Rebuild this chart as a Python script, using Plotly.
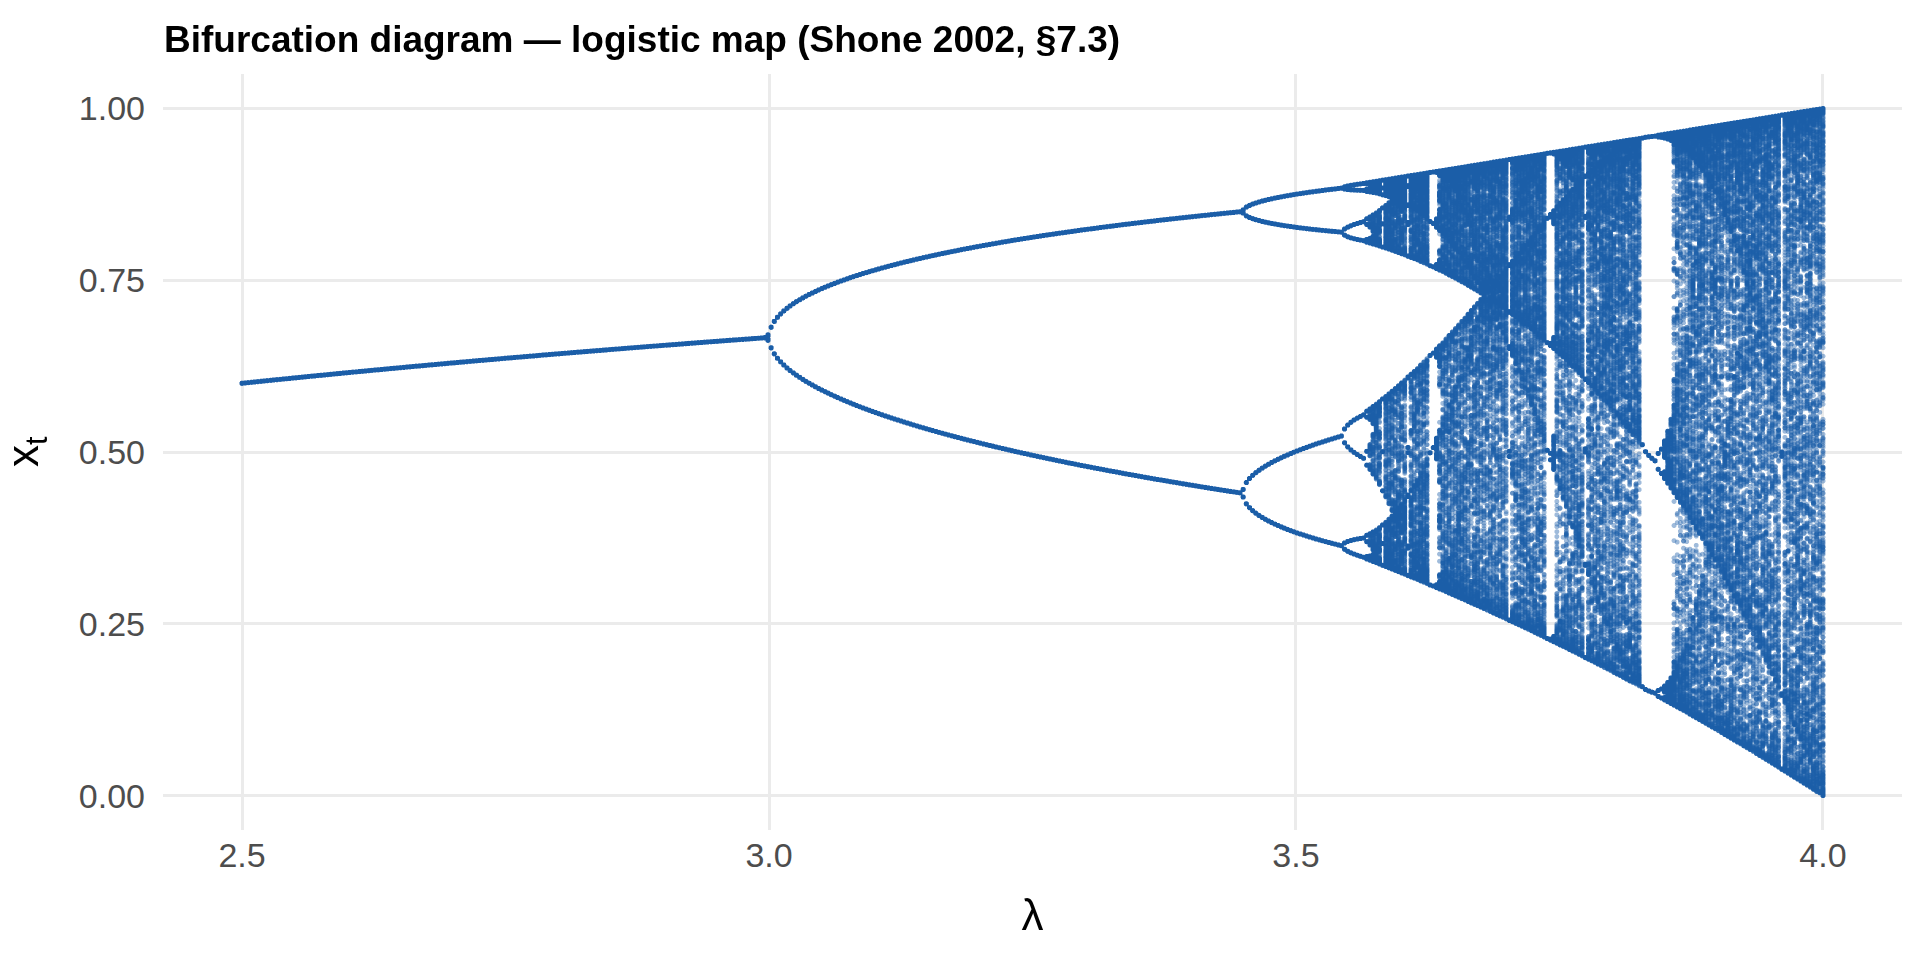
import numpy as np
import plotly.graph_objects as go

# logistic map x_{t+1} = lambda * x_t * (1 - x_t), parameter sweep
LAMBDA_START = 2.5
LAMBDA_END = 4.0
N_LAMBDA = 500
X0 = 0.2
N_BURN = 1000
N_KEEP = 500

X_TICKS = [2.5, 3.0, 3.5, 4.0]
X_TICK_LABELS = ["2.5", "3.0", "3.5", "4.0"]
Y_TICKS = [0.0, 0.25, 0.5, 0.75, 1.0]
Y_TICK_LABELS = ["0.00", "0.25", "0.50", "0.75", "1.00"]

TITLE = "Bifurcation diagram \u2014 logistic map (Shone 2002, \u00a77.3)"

lambdas = np.linspace(LAMBDA_START, LAMBDA_END, N_LAMBDA)
x = np.full(lambdas.shape, X0)
for _ in range(N_BURN):
    x = lambdas * x * (1 - x)
xs, ys = [], []
for _ in range(N_KEEP):
    x = lambdas * x * (1 - x)
    xs.append(lambdas.copy())
    ys.append(x.copy())
xs = np.concatenate(xs)
ys = np.concatenate(ys)

fig = go.Figure()
fig.add_trace(
    go.Scattergl(
        x=xs,
        y=ys,
        mode="markers",
        marker=dict(color="#1B5EA8", size=5, opacity=0.42, line=dict(width=0)),
        hoverinfo="skip",
        showlegend=False,
    )
)

font_family = "Liberation Sans, Arial, sans-serif"
ml, mr = 155, 26

fig.update_layout(
    width=1920,
    height=960,
    paper_bgcolor="white",
    plot_bgcolor="white",
    margin=dict(l=ml, r=mr, t=66, b=138),
    font=dict(family=font_family, color="#4D4D4D"),
    title=dict(
        text="<b>" + TITLE + "</b>",
        x=156 / 1920,
        xanchor="left",
        y=1 - 31 / 960,
        yanchor="middle",
        font=dict(size=37, color="black", family=font_family),
    ),
)

# y axis title placed by hand so it sits at the far left like the original
fig.add_annotation(
    text="x<sub>t</sub>",
    xref="paper",
    yref="paper",
    x=(18 - ml) / (1920 - ml - mr),
    y=0.5,
    xanchor="center",
    yanchor="middle",
    textangle=-90,
    showarrow=False,
    font=dict(size=44, color="black", family=font_family),
)

fig.update_xaxes(
    range=[2.425, 4.075],
    tickvals=X_TICKS,
    ticktext=X_TICK_LABELS,
    tickfont=dict(size=34, color="#4D4D4D"),
    showgrid=True,
    gridcolor="#EBEBEB",
    gridwidth=3,
    zeroline=False,
    showline=False,
    ticks="",
    ticklen=0,
    ticklabelstandoff=2,
    automargin=False,
    title=dict(text="\u03bb", font=dict(size=44, color="black"), standoff=26),
)
fig.update_yaxes(
    range=[-0.05, 1.05],
    tickvals=Y_TICKS,
    ticktext=Y_TICK_LABELS,
    tickfont=dict(size=34, color="#4D4D4D"),
    showgrid=True,
    gridcolor="#EBEBEB",
    gridwidth=3,
    zeroline=False,
    showline=False,
    ticks="",
    ticklen=0,
    ticklabelstandoff=17,
    automargin=False,
)

fig.write_html("out.html")
